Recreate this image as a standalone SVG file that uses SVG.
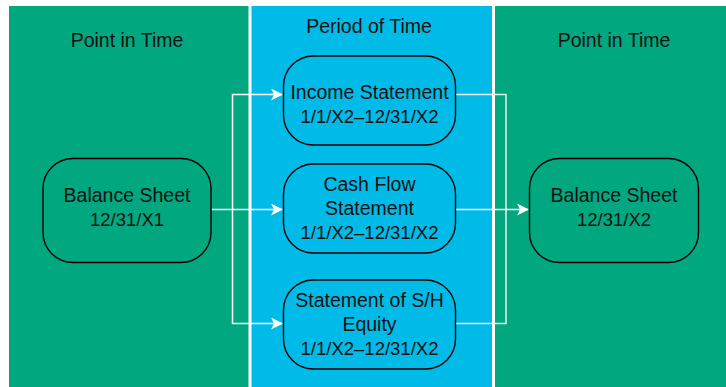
<svg xmlns="http://www.w3.org/2000/svg" width="726" height="387" viewBox="0 0 726 387">
<style>
text{font-family:"Liberation Sans",Arial,sans-serif;font-size:19.5px;fill:#111;text-anchor:middle}
text.d{font-size:18.5px}
.node{stroke:#000;stroke-width:1.4;fill:none}
.conn{stroke:#fff;stroke-width:1.5;fill:none}
.conn2{stroke:#e8f0ee;stroke-width:1.5;fill:none}
</style>
<defs>
<marker id="arr" viewBox="0 0 12 12" refX="11" refY="6" markerWidth="12" markerHeight="12" markerUnits="userSpaceOnUse" orient="auto">
<path d="M0,0 L12,6 L0,12 L3,6 z" fill="#fff"/>
</marker>
</defs>
<rect width="726" height="387" fill="#fff"/>
<g id="panels">
<rect x="9" y="6" width="239.5" height="381" fill="#00A77F"/>
<rect x="251.5" y="6" width="240.5" height="381" fill="#00BBE8"/>
<rect x="495" y="6" width="231" height="381" fill="#00A77F"/>
<text x="127" y="47">Point in Time</text>
<text x="369" y="33">Period of Time</text>
<text x="614" y="47">Point in Time</text>
</g>
<g id="connectors">
<path class="conn" d="M211,209.5 L282,209.5" marker-end="url(#arr)"/>
<path class="conn" d="M232.5,209.5 L232.5,94.5 L282,94.5" marker-end="url(#arr)"/>
<path class="conn" d="M232.5,209.5 L232.5,323.5 L282,323.5" marker-end="url(#arr)"/>
<path class="conn2" d="M455.5,94.5 L506,94.5 L506,323.5 L455.5,323.5"/>
<path class="conn" d="M455.5,209.5 L528,209.5" marker-end="url(#arr)"/>
</g>
<g id="bs1">
<rect class="node" x="43" y="158.5" width="168" height="104" rx="30"/>
<text x="127" y="202">Balance Sheet</text>
<text class="d" x="127" y="226">12/31/X1</text>
</g>
<g id="income">
<rect class="node" x="283.5" y="56" width="172" height="89" rx="30"/>
<text x="369.5" y="99">Income Statement</text>
<text class="d" x="369.5" y="123">1/1/X2–12/31/X2</text>
</g>
<g id="cashflow">
<rect class="node" x="283.5" y="164" width="172" height="89" rx="30"/>
<text x="369.5" y="191">Cash Flow</text>
<text x="369.5" y="215">Statement</text>
<text class="d" x="369.5" y="239">1/1/X2–12/31/X2</text>
</g>
<g id="equity">
<rect class="node" x="283.5" y="280" width="172" height="89" rx="30"/>
<text x="369.5" y="307">Statement of S/H</text>
<text x="369.5" y="331">Equity</text>
<text class="d" x="369.5" y="355">1/1/X2–12/31/X2</text>
</g>
<g id="bs2">
<rect class="node" x="529.5" y="158.5" width="169" height="104" rx="30"/>
<text x="614" y="202">Balance Sheet</text>
<text class="d" x="614" y="226">12/31/X2</text>
</g>
</svg>
